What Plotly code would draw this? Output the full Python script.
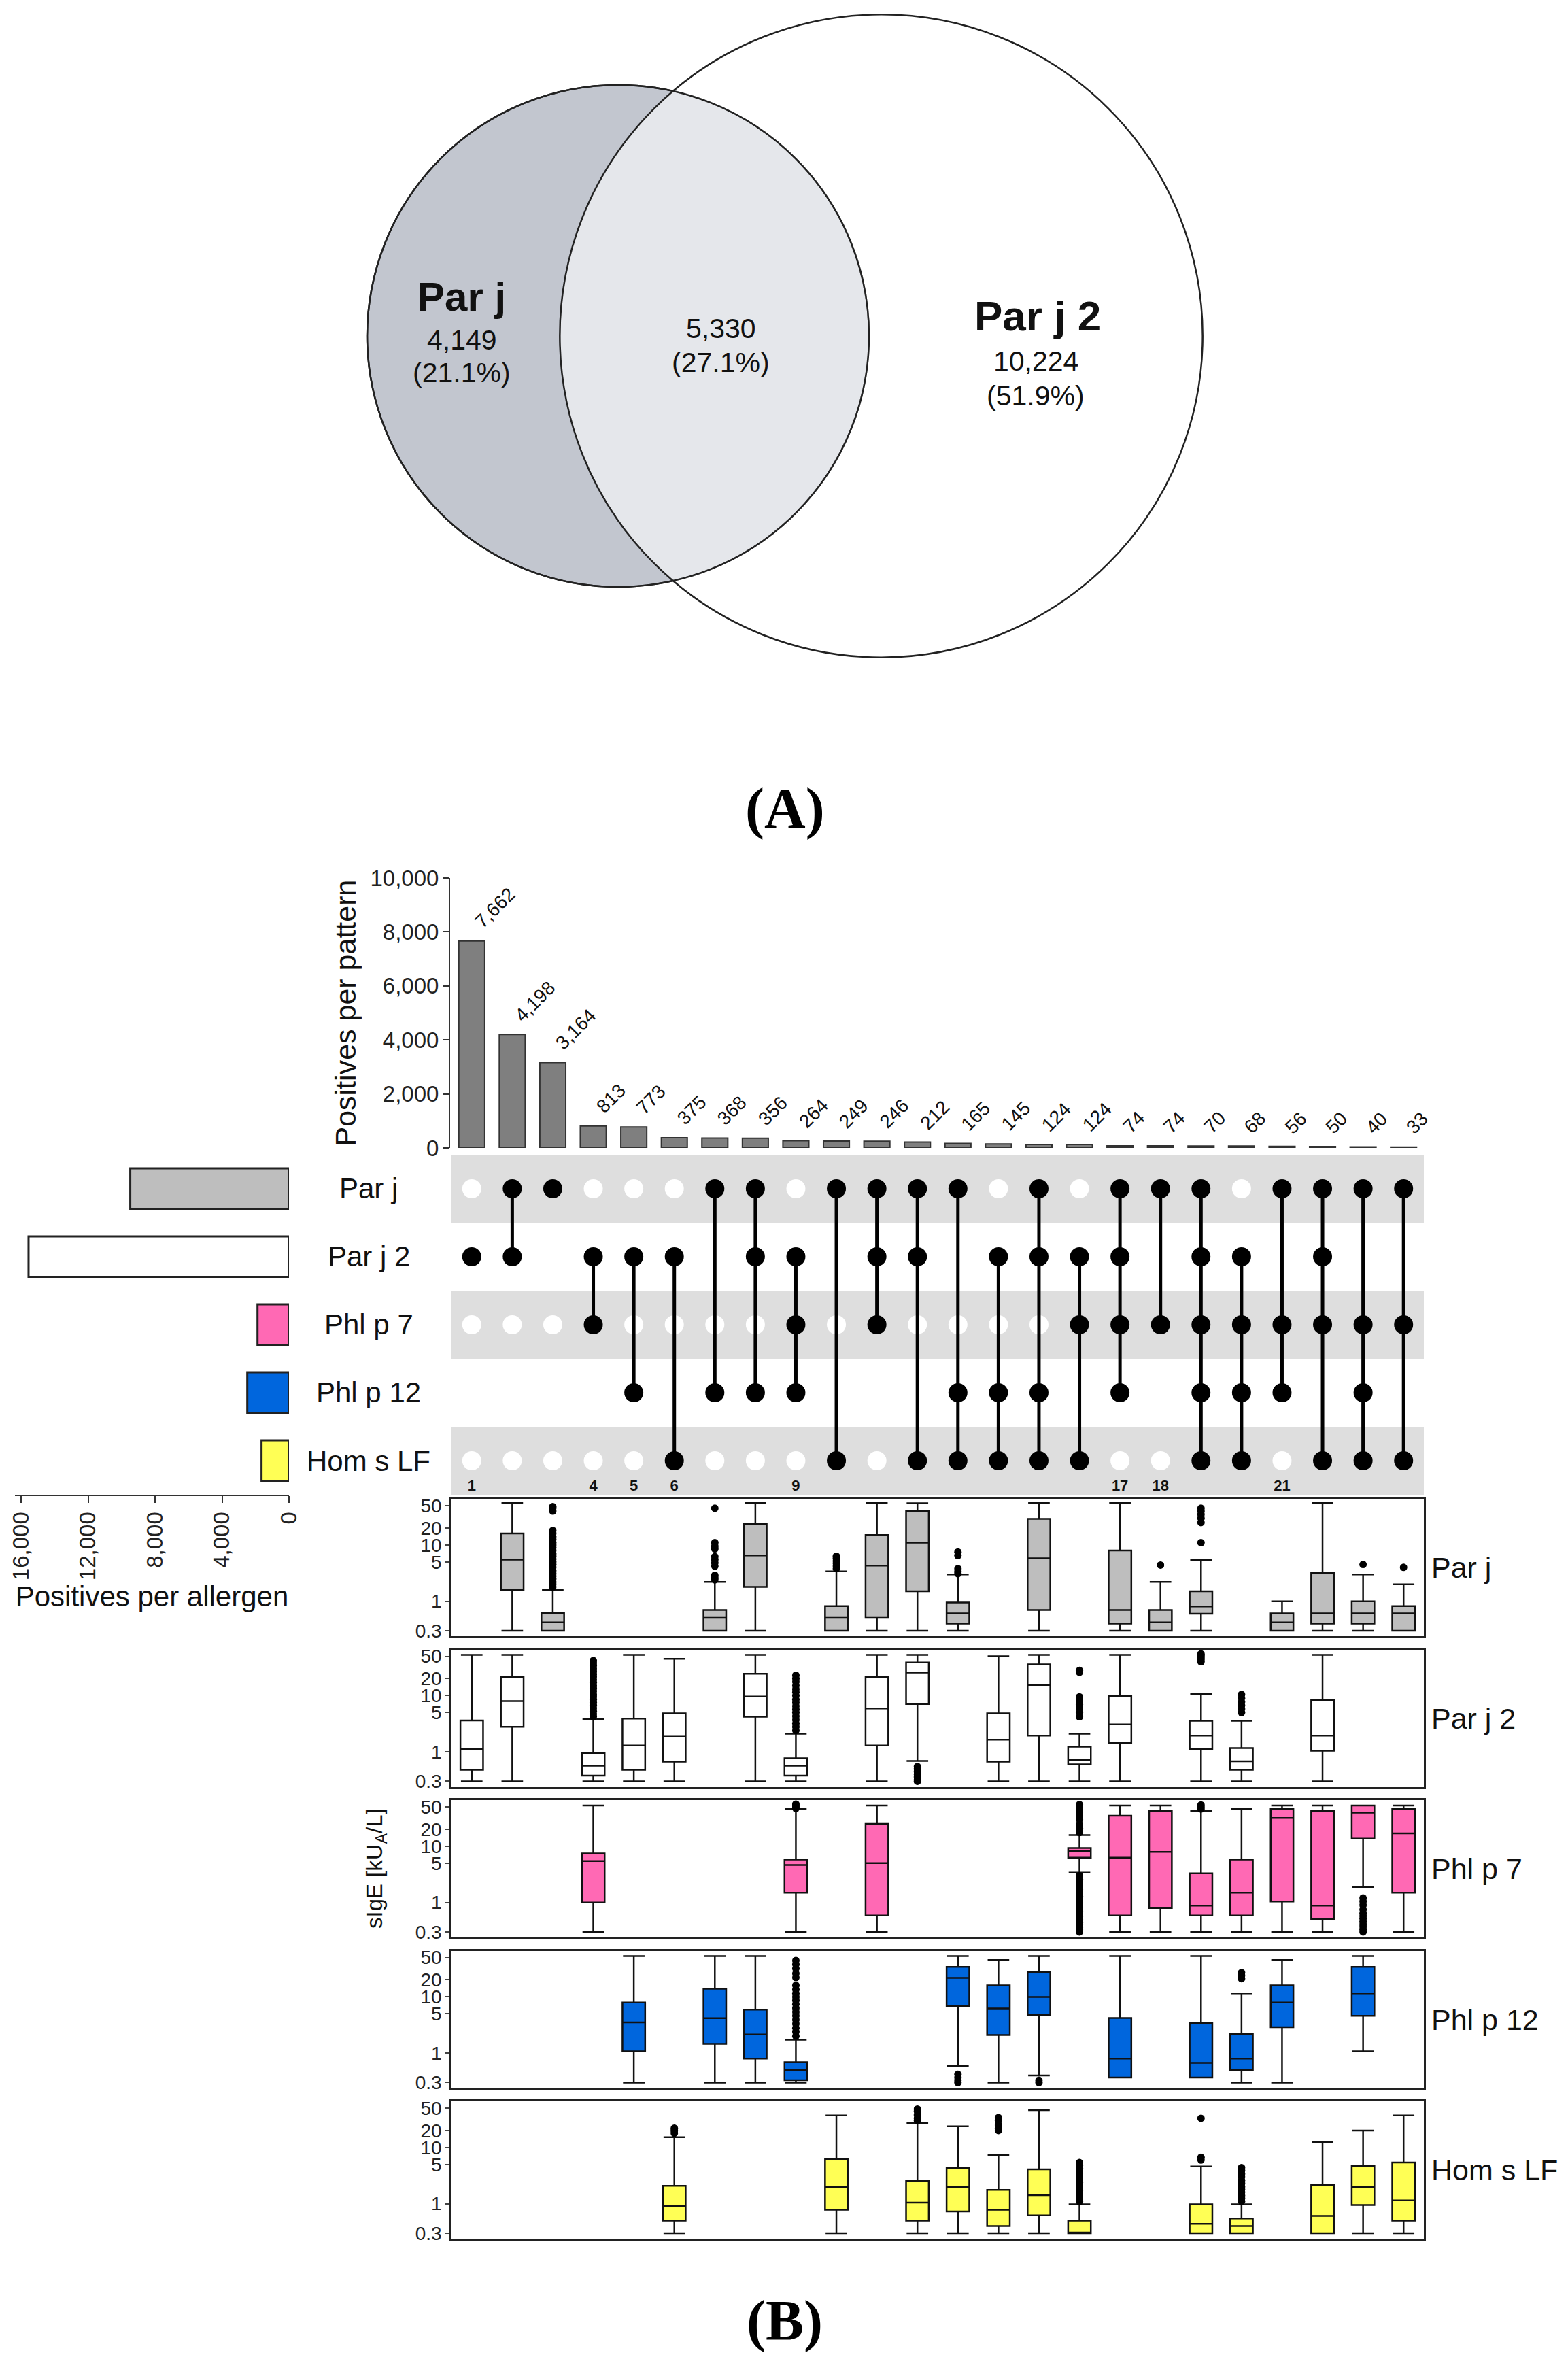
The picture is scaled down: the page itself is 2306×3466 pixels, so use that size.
import plotly.graph_objects as go

W, H = 2306, 3466
FONT = "Liberation Sans, Arial, Helvetica, sans-serif"
SERIF = "Liberation Serif, Times New Roman, serif"


def fx(p):
    return p / W


def fy(p):
    return 1 - p / H


# ------------------------------------------------------------------ data
venn_names = ["Par j", "Par j 2"]
venn_only = [4149, 10224]
venn_both = 5330

allergens = ["Par j", "Par j 2", "Phl p 7", "Phl p 12", "Hom s LF"]
allergen_colors = ["#bebebe", "#ffffff", "#ff69b4", "#0066dd", "#ffff55"]
allergen_totals = [9479, 15554, 1880, 2490, 1640]
allergen_ticks = [0, 4000, 8000, 12000, 16000]

pattern_counts = [7662, 4198, 3164, 813, 773, 375, 368, 356, 264, 249, 246, 212,
                  165, 145, 124, 124, 74, 74, 70, 68, 56, 50, 40, 33]
pattern_members = [
    [0, 1, 0, 0, 0], [1, 1, 0, 0, 0], [1, 0, 0, 0, 0], [0, 1, 1, 0, 0],
    [0, 1, 0, 1, 0], [0, 1, 0, 0, 1], [1, 0, 0, 1, 0], [1, 1, 0, 1, 0],
    [0, 1, 1, 1, 0], [1, 0, 0, 0, 1], [1, 1, 1, 0, 0], [1, 1, 0, 0, 1],
    [1, 0, 0, 1, 1], [0, 1, 0, 1, 1], [1, 1, 0, 1, 1], [0, 1, 1, 0, 1],
    [1, 1, 1, 1, 0], [1, 0, 1, 0, 0], [1, 1, 1, 1, 1], [0, 1, 1, 1, 1],
    [1, 0, 1, 1, 0], [1, 1, 1, 0, 1], [1, 0, 1, 1, 1], [1, 0, 1, 0, 1],
]
pattern_marked = [1, 4, 5, 6, 9, 17, 18, 21]
pattern_ticks = [0, 2000, 4000, 6000, 8000, 10000]

box_ticks = [0.3, 1, 5, 10, 20, 50]
box_ticktext = ["0.3", "1", "5", "10", "20", "50"]

# (pattern, lower whisker, q1, median, q3, upper whisker)
box_parj = [
    (2, 0.3, 1.6, 5.5, 16, 56), (3, 0.3, 0.3, 0.42, 0.62, 1.6),
    (7, 0.3, 0.3, 0.51, 0.7, 2.2), (8, 0.3, 1.8, 6.5, 23.5, 56),
    (10, 0.3, 0.3, 0.51, 0.82, 3.4), (11, 0.3, 0.51, 4.3, 15, 56),
    (12, 0.3, 1.5, 11, 40, 55), (13, 0.3, 0.4, 0.61, 0.95, 3.0),
    (15, 0.3, 0.7, 5.8, 29, 56), (17, 0.3, 0.4, 0.7, 8.0, 56),
    (18, 0.3, 0.3, 0.42, 0.7, 2.2), (19, 0.3, 0.6, 0.81, 1.5, 5.4),
    (21, 0.3, 0.3, 0.42, 0.61, 1.0), (22, 0.3, 0.4, 0.61, 3.2, 56),
    (23, 0.3, 0.4, 0.61, 1.0, 3.0), (24, 0.3, 0.3, 0.61, 0.82, 2.0),
]
box_parj2 = [
    (1, 0.3, 0.48, 1.13, 3.6, 53), (2, 0.3, 2.8, 8.0, 21.6, 53),
    (4, 0.3, 0.38, 0.57, 0.96, 3.8), (5, 0.3, 0.48, 1.3, 3.9, 53),
    (6, 0.3, 0.67, 1.87, 4.84, 45), (8, 0.3, 4.2, 9.6, 24.5, 53),
    (9, 0.3, 0.38, 0.57, 0.77, 2.1), (11, 0.3, 1.3, 5.9, 21.6, 53),
    (12, 0.69, 7.1, 25.7, 38.7, 53), (14, 0.3, 0.67, 1.65, 4.84, 50),
    (15, 0.3, 1.95, 15.5, 35.8, 53), (16, 0.3, 0.6, 0.72, 1.24, 2.1),
    (17, 0.3, 1.43, 3.07, 9.9, 53), (19, 0.3, 1.13, 1.95, 3.57, 10.6),
    (20, 0.3, 0.48, 0.68, 1.17, 3.57), (22, 0.3, 1.05, 1.95, 8.3, 53),
]
box_phlp7 = [
    (4, 0.3, 1.0, 5.44, 7.43, 53), (9, 0.3, 1.49, 4.63, 5.8, 46),
    (11, 0.3, 0.59, 5.0, 25, 53), (16, 3.39, 6.27, 8.17, 9.3, 15.8),
    (17, 0.3, 0.59, 6.27, 34.9, 53), (18, 0.3, 0.8, 7.9, 42, 53),
    (19, 0.3, 0.59, 0.88, 3.3, 42), (20, 0.3, 0.59, 1.49, 5.8, 46),
    (21, 0.3, 1.04, 31.8, 46, 53), (22, 0.3, 0.51, 0.88, 42, 53),
    (23, 1.87, 13.6, 39.5, 53, 53), (24, 0.3, 1.49, 16.9, 46, 53),
]
box_phlp12 = [
    (5, 0.3, 1.08, 3.52, 7.9, 53), (7, 0.3, 1.46, 4.18, 13.9, 53),
    (8, 0.3, 0.8, 2.15, 5.9, 53), (9, 0.3, 0.33, 0.5, 0.69, 1.73),
    (13, 0.59, 6.84, 21.7, 34.2, 53), (14, 0.3, 2.1, 6.2, 16, 45),
    (15, 0.4, 4.8, 10, 27.5, 53), (17, 0.37, 0.37, 0.8, 4.2, 53),
    (19, 0.37, 0.37, 0.67, 3.4, 53), (20, 0.3, 0.5, 0.8, 2.2, 11.5),
    (21, 0.3, 2.9, 7.9, 16, 45), (23, 1.08, 4.6, 11.5, 34.2, 53),
]
box_homslf = [
    (6, 0.3, 0.5, 0.91, 2.08, 15.2), (10, 0.3, 0.78, 1.97, 6.2, 37),
    (12, 0.3, 0.5, 1.05, 2.54, 27.4), (13, 0.3, 0.73, 1.97, 4.32, 23.8),
    (14, 0.3, 0.4, 0.78, 1.77, 7.3), (15, 0.3, 0.62, 1.42, 4.1, 46),
    (16, 0.3, 0.3, 0.3, 0.5, 0.98), (19, 0.3, 0.3, 0.44, 0.98, 4.6),
    (20, 0.3, 0.3, 0.4, 0.55, 0.98), (22, 0.3, 0.3, 0.61, 2.18, 12.4),
    (23, 0.3, 0.95, 1.97, 4.7, 20), (24, 0.3, 0.5, 1.15, 5.4, 37),
]
box_stats = [box_parj, box_parj2, box_phlp7, box_phlp12, box_homslf]

out_parj = {
    3: [1.8, 2.0, 2.2, 2.5, 2.8, 3.1, 3.5, 4.0, 4.5, 5.0, 5.6, 6.3, 7.0, 8.0,
        9.0, 10, 11, 12.5, 14, 16, 18, 40, 45, 48],
    7: [2.4, 2.6, 2.9, 4.2, 4.8, 5.5, 6.2, 8.5, 9.5, 11, 45],
    10: [3.8, 4.2, 4.7, 5.2, 5.8, 6.3],
    13: [3.1, 3.4, 3.8, 6.5, 7.5],
    18: [4.4],
    19: [11, 25, 30, 35, 40, 45],
    23: [4.5],
    24: [4.0],
}
out_parj2 = {
    4: [4.2, 4.7, 5.3, 6, 6.8, 7.6, 8.5, 9.5, 10.5, 12, 13.5, 15, 17, 19, 21.5,
        24, 27, 30, 34, 38, 42],
    9: [2.4, 2.8, 3.2, 3.7, 4.3, 5, 5.7, 6.5, 7.5, 8.5, 10, 11.5, 13, 15, 17.5,
        20, 23],
    12: [0.55, 0.5, 0.45, 0.4, 0.36, 0.32, 0.3],
    16: [4.2, 5, 6, 7, 8.3, 9.5, 26, 28],
    19: [40, 44, 48, 52, 55],
    20: [5, 5.8, 6.7, 7.7, 9, 10.5],
}
out_phlp7 = {
    9: [47, 50, 53, 56],
    16: [0.3, 0.33, 0.36, 0.4, 0.44, 0.5, 0.56, 0.62, 0.7, 0.8, 0.9, 1.0, 1.15,
         1.3, 1.5, 1.7, 2.0, 2.3, 2.6, 3.0, 17.5, 19, 21, 24, 30, 35, 40, 45,
         50, 55],
    19: [46, 50, 54],
    23: [0.3, 0.33, 0.37, 0.41, 0.46, 0.52, 0.58, 0.65, 0.75, 0.9, 1.05, 1.2],
}
out_phlp12 = {
    9: [2.0, 2.4, 2.8, 3.3, 3.9, 4.6, 5.4, 6.3, 7.4, 8.7, 10, 11.5, 13.5, 16,
        22, 26, 32, 38, 44],
    13: [0.3, 0.33, 0.37, 0.42],
    15: [0.3, 0.33],
    20: [21, 24, 27],
}
out_homslf = {
    6: [18, 20, 22],
    12: [30, 33, 38, 44, 48],
    14: [20, 22, 25, 30, 34],
    16: [1.1, 1.2, 1.35, 1.5, 1.7, 1.9, 2.1, 2.4, 2.7, 3.0, 3.4, 3.8, 4.3, 4.8,
         5.4],
    19: [6.0, 6.7, 33],
    20: [1.1, 1.25, 1.4, 1.6, 1.8, 2.0, 2.3, 2.6, 3.0, 3.4, 3.9, 4.4],
}
box_outliers = [out_parj, out_parj2, out_phlp7, out_phlp12, out_homslf]

# ------------------------------------------------------------------ layout geometry (pixels)
COL_L, COL_R = 664, 2094
BAR_TOP, BAR_BOT = 1291, 1688
MAT_TOP, MAT_BOT = 1698, 2198
LEFT_L, LEFT_R = 22, 425
PANEL_TOP0, PANEL_H, PANEL_STEP = 2204, 202, 221.5
VENN_CY = 494
VENN_CX = [909, 1296]
VENN_K = 3.79  # px per sqrt(count)

n_cols = len(pattern_counts)
cols = list(range(1, n_cols + 1))
xrange_cols = [0.5, n_cols + 0.5]

fig = go.Figure()

# ---------------- top bar chart
fig.add_trace(go.Bar(
    x=cols, y=pattern_counts, width=0.64,
    marker=dict(color="#7f7f7f", line=dict(color="#333333", width=2)),
    xaxis="x", yaxis="y", showlegend=False, hoverinfo="skip"))

annotations = []
for c, v in zip(cols, pattern_counts):
    annotations.append(dict(
        x=c - 0.08, y=v, xref="x", yref="y", text=f"{v:,}", showarrow=False,
        textangle=-45, xanchor="left", yanchor="bottom", yshift=10,
        font=dict(family=FONT, size=28, color="#111111")))

# ---------------- matrix
shapes = []
for r in range(0, len(allergens), 2):
    shapes.append(dict(type="rect", xref="x2", yref="y2", x0=0.5, x1=n_cols + 0.5,
                       y0=r - 0.5, y1=r + 0.5, fillcolor="#dedede",
                       line=dict(width=0), layer="below"))

ex, ey = [], []
for c, mem in zip(cols, pattern_members):
    for r, m in enumerate(mem):
        if not m:
            ex.append(c)
            ey.append(r)
fig.add_trace(go.Scatter(x=ex, y=ey, mode="markers", xaxis="x2", yaxis="y2",
                         marker=dict(color="white", size=28), showlegend=False,
                         hoverinfo="skip"))
for c, mem in zip(cols, pattern_members):
    rows = [r for r, m in enumerate(mem) if m]
    fig.add_trace(go.Scatter(x=[c] * len(rows), y=rows, mode="lines+markers",
                             xaxis="x2", yaxis="y2",
                             line=dict(color="black", width=5),
                             marker=dict(color="black", size=28),
                             showlegend=False, hoverinfo="skip"))
fig.add_trace(go.Scatter(x=pattern_marked, y=[4.38] * len(pattern_marked),
                         mode="text", text=[f"<b>{m}</b>" for m in pattern_marked],
                         textfont=dict(family=FONT, size=22, color="#111111"),
                         xaxis="x2", yaxis="y2", showlegend=False, hoverinfo="skip"))

for r, name in enumerate(allergens):
    annotations.append(dict(x=fx(542), xref="paper", y=r, yref="y2", text=name,
                            showarrow=False, xanchor="center", yanchor="middle",
                            font=dict(family=FONT, size=42, color="#111111")))

# ---------------- left bars (positives per allergen)
fig.add_trace(go.Bar(
    x=allergen_totals, y=list(range(len(allergens))), orientation="h", width=0.6,
    marker=dict(color=allergen_colors, line=dict(color="#222222", width=3)),
    xaxis="x3", yaxis="y3", showlegend=False, hoverinfo="skip"))

# ---------------- box panels
for i, (name, stats, outs) in enumerate(zip(allergens, box_stats, box_outliers)):
    xa, ya = f"x{4 + i}", f"y{4 + i}"
    fig.add_trace(go.Box(
        x=[s[0] for s in stats],
        lowerfence=[s[1] for s in stats], q1=[s[2] for s in stats],
        median=[s[3] for s in stats], q3=[s[4] for s in stats],
        upperfence=[s[5] for s in stats],
        fillcolor=allergen_colors[i], line=dict(color="#111111", width=2.5),
        width=0.56, whiskerwidth=0.95, boxpoints=False,
        xaxis=xa, yaxis=ya, showlegend=False, hoverinfo="skip"))
    ox, oy = [], []
    for c, vals in outs.items():
        ox += [c] * len(vals)
        oy += vals
    fig.add_trace(go.Scatter(x=ox, y=oy, mode="markers", xaxis=xa, yaxis=ya,
                             marker=dict(color="black", size=11),
                             showlegend=False, hoverinfo="skip"))
    top = PANEL_TOP0 + i * PANEL_STEP
    annotations.append(dict(x=fx(2103), y=fy(top + PANEL_H / 2), xref="paper",
                            yref="paper", text=name, showarrow=False,
                            xanchor="left", yanchor="middle",
                            font=dict(family=FONT, size=43, color="#111111")))

annotations.append(dict(x=fx(553), y=fy(PANEL_TOP0 + 2 * PANEL_STEP + PANEL_H / 2),
                        xref="paper", yref="paper", text="sIgE [kU<sub>A</sub>/L]",
                        showarrow=False, textangle=-90, xanchor="center",
                        yanchor="middle",
                        font=dict(family=FONT, size=33, color="#111111")))

# ---------------- Venn diagram
venn_tot = [venn_only[0] + venn_both, venn_only[1] + venn_both]
venn_r = [VENN_K * t ** 0.5 for t in venn_tot]
grand = sum(venn_only) + venn_both


def circle(cx, r, fill, width=2.5):
    return dict(type="circle", xref="paper", yref="paper",
                x0=fx(cx - r), x1=fx(cx + r), y0=fy(VENN_CY + r), y1=fy(VENN_CY - r),
                fillcolor=fill, line=dict(color="#222222", width=width))


shapes.append(circle(VENN_CX[0], venn_r[0], "#c2c6cf"))
shapes.append(circle(VENN_CX[1], venn_r[1], "rgba(255,255,255,0.58)"))
shapes.append(circle(VENN_CX[0], venn_r[0], "rgba(0,0,0,0)"))


def vtext(x, y, t, size, bold=False):
    annotations.append(dict(x=fx(x), y=fy(y), xref="paper", yref="paper",
                            text=f"<b>{t}</b>" if bold else t, showarrow=False,
                            xanchor="center", yanchor="middle",
                            font=dict(family=FONT, size=size, color="#111111")))


vtext(679, 436, venn_names[0], 60, True)
vtext(679, 500, f"{venn_only[0]:,}", 41)
vtext(679, 548, f"({100 * venn_only[0] / grand:.1f}%)", 41)
vtext(1060, 483, f"{venn_both:,}", 41)
vtext(1060, 533, f"({100 * venn_both / grand:.1f}%)", 41)
vtext(1526, 464, venn_names[1], 62, True)
vtext(1523, 531, f"{venn_only[1]:,}", 41)
vtext(1523, 582, f"({100 * venn_only[1] / grand:.1f}%)", 41)

for lab, y in (("(A)", 1189), ("(B)", 3413)):
    annotations.append(dict(x=fx(1154), y=fy(y), xref="paper", yref="paper",
                            text=f"<b>{lab}</b>", showarrow=False,
                            xanchor="center", yanchor="middle",
                            font=dict(family=SERIF, size=84, color="black")))

# ------------------------------------------------------------------ axes
hidden = dict(showgrid=False, zeroline=False, showticklabels=False, ticks="",
              showline=False, automargin=False)
layout_axes = {}
layout_axes["xaxis"] = dict(domain=[fx(COL_L), fx(COL_R)], range=xrange_cols,
                            anchor="y", **hidden)
layout_axes["yaxis"] = dict(domain=[fy(BAR_BOT), fy(BAR_TOP)], range=[0, 10000],
                            anchor="free", position=fx(COL_L - 3), automargin=False,
                            tickvals=pattern_ticks, tickformat=",",
                            showline=True, linecolor="#333333", linewidth=2,
                            ticks="outside", ticklen=8, tickwidth=2,
                            tickcolor="#333333", showgrid=False, zeroline=False,
                            tickfont=dict(family=FONT, size=33, color="#222222"),
                            title=dict(text="Positives per pattern", standoff=6,
                                       font=dict(family=FONT, size=43,
                                                 color="#111111")))
layout_axes["xaxis2"] = dict(domain=[fx(COL_L), fx(COL_R)], range=xrange_cols,
                             anchor="y2", **hidden)
layout_axes["yaxis2"] = dict(domain=[fy(MAT_BOT), fy(MAT_TOP)], range=[4.5, -0.5],
                             anchor="x2", **hidden)
layout_axes["xaxis3"] = dict(domain=[fx(LEFT_L), fx(LEFT_R)],
                             range=[16000 * (LEFT_R - LEFT_L) / (LEFT_R - 31), 0],
                             anchor="y3", tickvals=allergen_ticks, tickformat=",",
                             tickangle=-90, showline=True, linecolor="#333333",
                             linewidth=2, ticks="outside", ticklen=10, tickwidth=2,
                             tickcolor="#333333", showgrid=False, zeroline=False,
                             automargin=False,
                             tickfont=dict(family=FONT, size=33, color="#222222"),
                             title=dict(text="Positives per allergen", standoff=8,
                                        font=dict(family=FONT, size=42,
                                                  color="#111111")))
layout_axes["yaxis3"] = dict(domain=[fy(MAT_BOT), fy(MAT_TOP)], range=[4.5, -0.5],
                             anchor="x3", **hidden)
for i in range(len(allergens)):
    top = PANEL_TOP0 + i * PANEL_STEP
    layout_axes[f"xaxis{4 + i}"] = dict(
        domain=[fx(COL_L), fx(COL_R)], range=xrange_cols, anchor=f"y{4 + i}",
        showgrid=False, zeroline=False, showticklabels=False, ticks="",
        automargin=False,
        showline=True, mirror=True, linecolor="#222222", linewidth=2.5)
    layout_axes[f"yaxis{4 + i}"] = dict(
        domain=[fy(top + PANEL_H), fy(top)], type="log", range=[-0.62, 1.82],
        anchor=f"x{4 + i}", tickvals=box_ticks, ticktext=box_ticktext,
        showline=True, mirror=True, linecolor="#222222", linewidth=2.5,
        ticks="outside", ticklen=6, tickwidth=2, tickcolor="#444444",
        showgrid=False, zeroline=False, automargin=False,
        tickfont=dict(family=FONT, size=28, color="#222222"))

fig.update_layout(
    width=W, height=H, autosize=False,
    margin=dict(l=0, r=0, t=0, b=0, pad=0, autoexpand=False),
    paper_bgcolor="white", plot_bgcolor="rgba(0,0,0,0)",
    shapes=shapes, annotations=annotations, showlegend=False,
    font=dict(family=FONT), **layout_axes)

fig.write_html("out.html", config={"displayModeBar": False},
               post_script="document.body.style.margin='0';"
                           "document.body.style.overflow='hidden';")
